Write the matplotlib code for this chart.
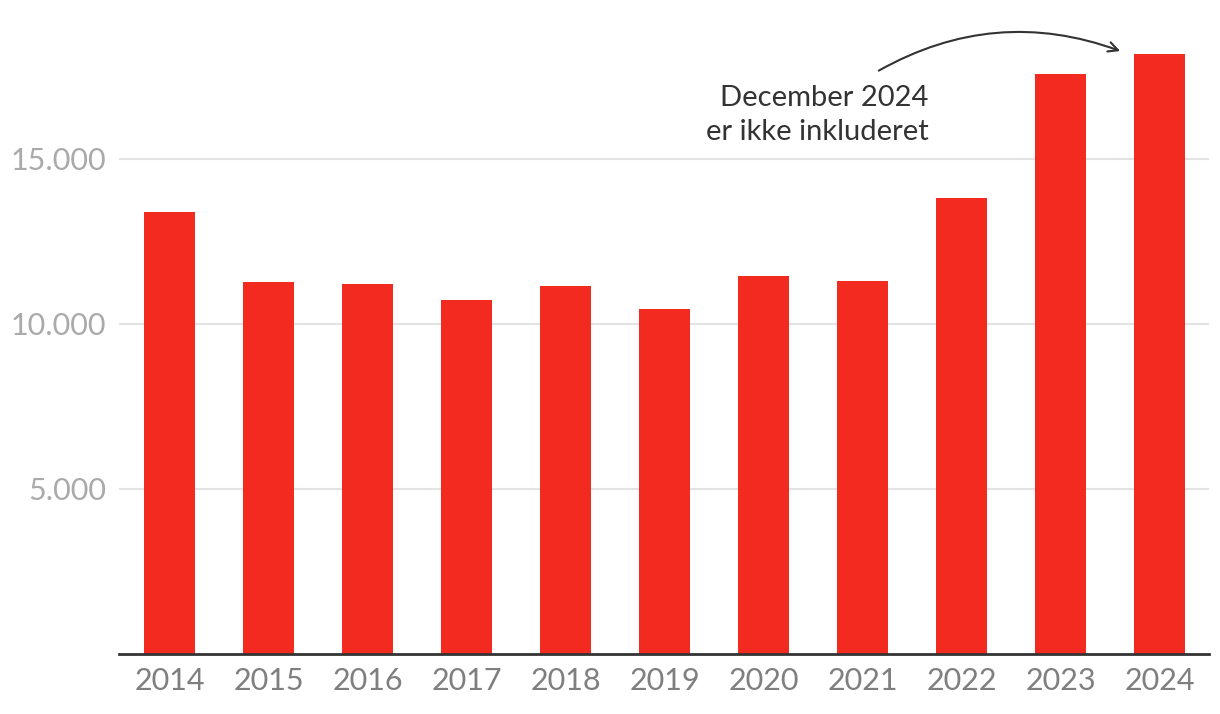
import matplotlib
matplotlib.use("Agg")
import matplotlib.pyplot as plt
from matplotlib.ticker import FuncFormatter

years = ["2014", "2015", "2016", "2017", "2018", "2019", "2020", "2021", "2022", "2023", "2024"]
values = [13400, 11270, 11210, 10730, 11150, 10450, 11450, 11300, 13820, 17580, 18180]
yticks = [5000, 10000, 15000]
note = "December 2024\ner ikke inkluderet"

plt.rcParams['font.family'] = ['Lato', 'DejaVu Sans']

fig = plt.figure(figsize=(12.2, 7.14), dpi=100)
ax = fig.add_axes([119/1220, 60/714, (1209-119)/1220, 654/714])

x = list(range(len(years)))
ax.bar(x, values, width=0.515, color="#F22A20", zorder=3)

ax.set_xlim(-0.51, 10.5)
ax.set_ylim(0, 19818)
ax.set_yticks(yticks)
ax.yaxis.set_major_formatter(FuncFormatter(lambda v, p: f"{int(v):,}".replace(",", ".")))
ax.set_xticks(x)
ax.set_xticklabels(years)

ax.grid(axis="y", color="#e3e3e3", linewidth=1.5, zorder=0)
for s in ["top", "right", "left"]:
    ax.spines[s].set_visible(False)
ax.spines["bottom"].set_color("#333333")
ax.spines["bottom"].set_linewidth(2)
ax.spines["bottom"].set_zorder(4)

ax.tick_params(axis="y", length=0, pad=9, labelsize=22, labelcolor="#aaaaaa")
ax.tick_params(axis="x", length=0, pad=9, labelsize=22, labelcolor="#7f7f7f")

ax.text(7.67, 15576, note, ha="right", va="baseline", fontsize=21,
        color="#333333", linespacing=1.38, multialignment="right")

ax.annotate("", xy=(9.63, 18242), xytext=(7.14, 17636),
            arrowprops=dict(arrowstyle="->,head_length=0.7,head_width=0.35",
                            connectionstyle="arc3,rad=-0.235",
                            color="#333333", linewidth=1.5))

fig.savefig("out.png", dpi=100)
